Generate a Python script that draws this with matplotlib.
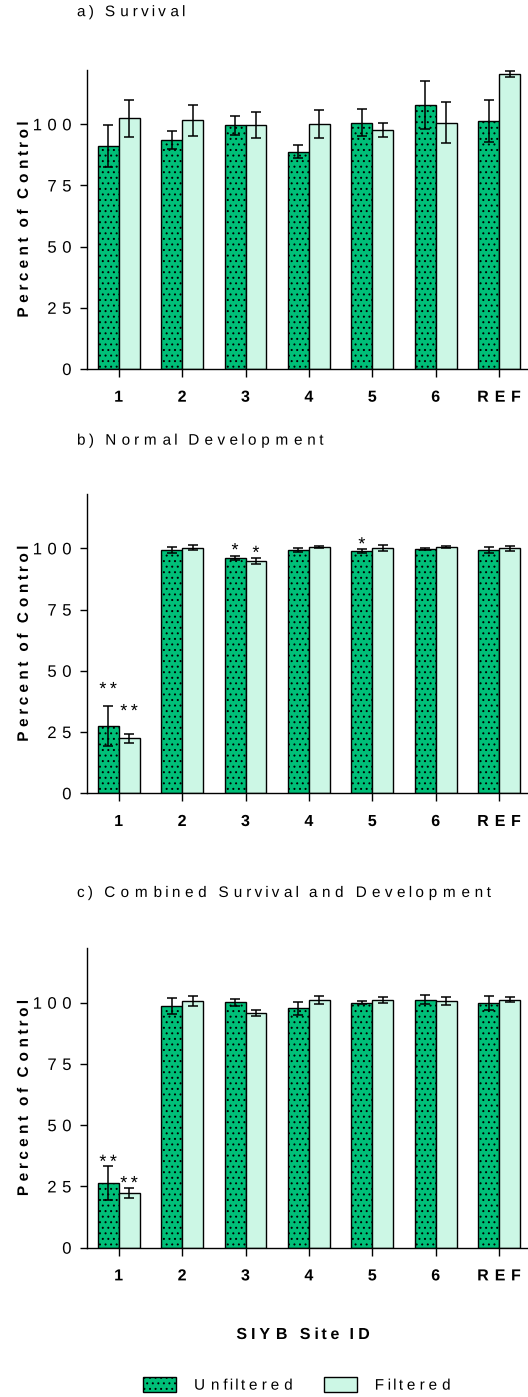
import numpy as np
import matplotlib
matplotlib.use("Agg")
import matplotlib.pyplot as plt
from matplotlib.path import Path
from matplotlib.patheffects import AbstractPathEffect

# ---------------------------------------------------------------- data
sites = ["1", "2", "3", "4", "5", "6", "REF"]
series_names = ["Unfiltered", "Filtered"]
panel_titles = ["a) Survival", "b) Normal Development",
                "c) Combined Survival and Development"]

survival_unf = [91.1, 93.6, 99.6, 88.8, 100.7, 107.9, 101.3]
survival_unf_err = [8.7, 3.7, 3.9, 2.7, 5.4, 10.0, 8.7]
survival_fil = [102.4, 101.6, 99.8, 100.2, 97.7, 100.7, 120.4]
survival_fil_err = [7.5, 6.4, 5.3, 5.7, 2.9, 8.4, 1.2]

development_unf = [27.5, 99.3, 96.2, 99.3, 99.0, 99.6, 99.3]
development_unf_err = [8.0, 1.3, 0.8, 0.9, 0.8, 0.4, 1.3]
development_fil = [22.4, 100.2, 94.9, 100.4, 100.3, 100.5, 100.0]
development_fil_err = [2.0, 1.0, 1.2, 0.4, 1.2, 0.4, 1.0]

combined_unf = [26.4, 98.6, 100.2, 97.7, 100.0, 101.2, 99.9]
combined_unf_err = [6.8, 3.3, 1.4, 2.7, 0.7, 1.8, 2.7]
combined_fil = [22.2, 100.7, 95.9, 101.1, 101.0, 100.7, 101.2]
combined_fil_err = [2.1, 2.0, 1.2, 1.5, 1.3, 1.8, 1.0]

# significance marks: (site index, series index, text, height in % of control)
development_marks = [(0, 0, "**", 44.6), (0, 1, "**", 35.6),
                     (2, 0, "*", 101.3), (2, 1, "*", 100.2),
                     (4, 0, "*", 103.7)]
combined_marks = [(0, 0, "**", 37.1), (0, 1, "**", 28.4)]

panels = [
    (survival_unf, survival_unf_err, survival_fil, survival_fil_err, []),
    (development_unf, development_unf_err, development_fil,
     development_fil_err, development_marks),
    (combined_unf, combined_unf_err, combined_fil, combined_fil_err,
     combined_marks),
]


# ------------------------------------------------------ letter spacing
class Tracking(AbstractPathEffect):
    """Spread the glyphs of a text path apart (wide letter spacing)."""

    def __init__(self, k=0.5, anchor="center"):
        super().__init__()
        self.k = k
        self.anchor = anchor

    def draw_path(self, renderer, gc, tpath, affine, rgbFace=None):
        codes = tpath.codes
        verts = np.array(tpath.vertices, dtype=float)
        if codes is None or len(verts) == 0:
            renderer.draw_path(gc, tpath, affine, rgbFace)
            return
        codes = np.asarray(codes)
        starts = np.flatnonzero(codes == Path.MOVETO)
        ends = np.r_[starts[1:], len(codes)]
        real = codes != Path.CLOSEPOLY
        groups = []
        for s, e in zip(starts, ends):
            xs = verts[s:e][real[s:e], 0]
            if len(xs) == 0:
                continue
            lo, hi = xs.min(), xs.max()
            c = 0.5 * (lo + hi)
            if groups and groups[-1][0] <= c <= groups[-1][1]:
                groups[-1][3].append((s, e))
            else:
                groups.append([lo, hi, c, [(s, e)]])
        if not groups:
            renderer.draw_path(gc, tpath, affine, rgbFace)
            return
        first, last = groups[0][2], groups[-1][2]
        ref = {"left": first, "right": last}.get(self.anchor,
                                                  0.5 * (first + last))
        for lo, hi, c, segs in groups:
            dx = self.k * (c - ref)
            for s, e in segs:
                verts[s:e, 0] += dx
        renderer.draw_path(gc, Path(verts, codes), affine, rgbFace)


# --------------------------------------------------------------- style
plt.rcParams["font.family"] = ["Liberation Sans", "DejaVu Sans"]
plt.rcParams["hatch.linewidth"] = 0.7
plt.rcParams["hatch.color"] = "black"

C_UNF = "#00BF78"
C_FIL = "#CCF7E5"

W, H = 528, 1397
fig = plt.figure(figsize=(W / 100, H / 100), dpi=100)


def px_rect(left, top, right, bottom):
    return [left / W, 1 - bottom / H, (right - left) / W, (bottom - top) / H]


axes_px = [(87.3, 70.0, 528, 369.0),
           (87.3, 494.0, 528, 793.3),
           (87.3, 948.3, 528, 1247.7)]
title_gap_px = [45.5, 41.0, 43.0]

x = np.arange(len(sites))
bw = 0.33
err_style = dict(ecolor="black", elinewidth=1.1, capthick=1.1, zorder=3)

for p, (rect, (unf, unf_e, fil, fil_e, marks)) in enumerate(zip(axes_px, panels)):
    ax = fig.add_axes(px_rect(*rect))
    ax_h = rect[3] - rect[1]

    b_unf = ax.bar(x - bw / 2, unf, bw, yerr=unf_e, color=C_UNF,
                   edgecolor="black", linewidth=1.0, hatch="...",
                   capsize=3.8, error_kw=err_style, zorder=2)
    b_fil = ax.bar(x + bw / 2, fil, bw, yerr=fil_e, color=C_FIL,
                   edgecolor="black", linewidth=1.0,
                   capsize=3.8, error_kw=err_style, zorder=2)

    ax.set_xlim(-0.495, 6.455)
    ax.set_ylim(0, 122.2)
    ax.set_yticks([0, 25, 50, 75, 100])
    ax.set_xticks(x, sites, fontweight="bold", fontsize=11.5)
    ax.tick_params(axis="y", labelsize=12, length=5.4, width=1.0, pad=6)
    ax.tick_params(axis="x", length=5.4, width=1.0, pad=9.5)
    for side in ("top", "right"):
        ax.spines[side].set_visible(False)
    for side in ("left", "bottom"):
        ax.spines[side].set_linewidth(1.0)

    for lbl in ax.get_xticklabels():
        lbl.set_path_effects([Tracking(0.55, "center")])
    for lbl in ax.get_yticklabels():
        lbl.set_path_effects([Tracking(0.6, "right")])

    ylab = ax.set_ylabel("Percent of Control", fontweight="bold", fontsize=11)
    ax.yaxis.set_label_coords(-0.128, 0.5)
    ylab.set_path_effects([Tracking(0.5, "center")])

    ttl = ax.set_title(panel_titles[p], loc="left", fontsize=11,
                       x=(77 - 87.3) / (W - 87.3),
                       y=1 + title_gap_px[p] / ax_h, va="baseline")
    ttl.set_path_effects([Tracking(0.55, "left")])

    for site, series, txt, height in marks:
        xpos = x[site] + (bw / 2 if series else -bw / 2)
        ann = ax.annotate(txt, xy=(xpos, height), xytext=(0, -0.57 * 13),
                          textcoords="offset points", ha="center",
                          va="baseline", fontsize=13)
        ann.set_path_effects([Tracking(0.5, "center")])

    if p == 2:
        xl = ax.set_xlabel("SIYB Site ID", fontweight="bold", fontsize=11.5)
        ax.xaxis.set_label_coords((303.5 - 87.3) / (W - 87.3),
                                  -(1327 - 1247.7) / ax_h)
        xl.set_path_effects([Tracking(0.52, "center")])
        leg = fig.legend([b_unf, b_fil], series_names, loc="center left",
                         bbox_to_anchor=(143 / W, 1 - 1385 / H), ncol=2,
                         frameon=False, fontsize=11, handlelength=2.16,
                         handleheight=1.05, handletextpad=1.18,
                         columnspacing=4.2, borderpad=0, borderaxespad=0)
        for t in leg.get_texts():
            t.set_path_effects([Tracking(0.6, "left")])

fig.savefig("out.png", dpi=100)
